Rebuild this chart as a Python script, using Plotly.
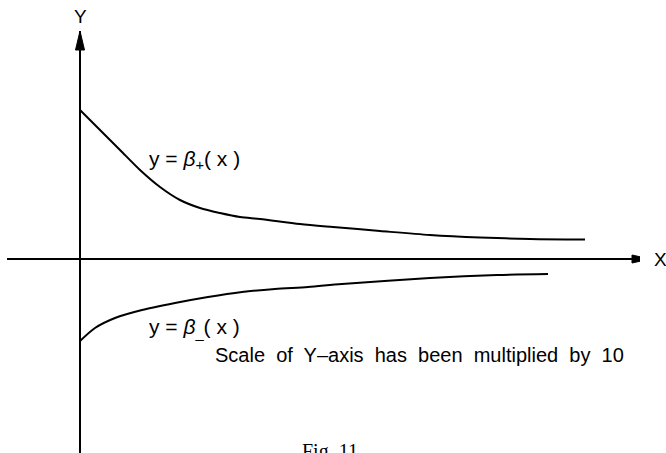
import plotly.graph_objects as go

# upper branch y = beta_+(x)
x_plus = [0, 0.4, 0.8, 1.2, 1.6, 2.0, 2.4, 2.8, 3.2, 3.6, 4.4, 5.06, 6.0, 7.0, 8.0, 9.0, 10.1]
y_plus = [14.9, 12.9, 10.9, 8.9, 7.2, 5.9, 5.1, 4.6, 4.2, 4.0, 3.5, 3.2, 2.8, 2.4, 2.15, 2.0, 1.95]

# lower branch y = beta_-(x)
x_minus = [0, 0.3, 0.7, 1.24, 1.9, 2.56, 3.24, 3.9, 4.56, 5.24, 7.0, 8.34, 9.36]
y_minus = [-8.2, -6.9, -5.9, -5.1, -4.4, -3.8, -3.3, -3.0, -2.8, -2.5, -1.9, -1.6, -1.5]

sans = "Liberation Sans"

fig = go.Figure()
fig.add_trace(go.Scatter(x=x_plus, y=y_plus, mode="lines",
                         line=dict(color="black", width=2, shape="spline", smoothing=0.8)))
fig.add_trace(go.Scatter(x=x_minus, y=y_minus, mode="lines",
                         line=dict(color="black", width=2, shape="spline", smoothing=0.8)))

# arrow heads on the axes
fig.add_shape(type="path", xref="x", yref="y", xsizemode="pixel", ysizemode="pixel",
              xanchor=0, yanchor=22.8, path="M -4.5 -19 L 0 0 L 4.5 -19 Z",
              fillcolor="black", line=dict(color="black", width=1))
fig.add_shape(type="path", xref="x", yref="y", xsizemode="pixel", ysizemode="pixel",
              xanchor=11.2, yanchor=0, path="M -8 -4 L 10 0 L -8 4 Z",
              fillcolor="black", line=dict(color="black", width=1))

fig.add_annotation(x=0, y=1.034, xref="x", yref="paper", xanchor="center", yanchor="middle",
                   text="Y", showarrow=False, font=dict(family=sans, size=19, color="black"))
fig.add_annotation(x=1.033, y=0, xref="paper", yref="y", xanchor="center", yanchor="middle",
                   text="X", showarrow=False, font=dict(family=sans, size=19, color="black"))
fig.add_annotation(x=1.34, y=9.9, xanchor="left", text="y = <i>β</i><sub>+</sub>( x )",
                   showarrow=False, font=dict(family=sans, size=21, color="black"))
fig.add_annotation(x=1.34, y=-6.9, xanchor="left", text="y = <i>β</i><sub>_</sub>( x )",
                   showarrow=False, font=dict(family=sans, size=21, color="black"))
fig.add_annotation(x=2.66, y=-9.6, xanchor="left",
                   text="Scale  of  Y–axis  has  been  multiplied  by  10",
                   showarrow=False, font=dict(family=sans, size=20, color="black"))
fig.add_annotation(x=4.4, y=-17.9, xanchor="left", yanchor="top", text="Fig. 11",
                   showarrow=False, font=dict(family="Liberation Serif", size=20, color="black"))

fig.update_xaxes(range=[-1.46, 11.2], showgrid=False, showticklabels=False, ticks="",
                 zeroline=True, zerolinecolor="black", zerolinewidth=2)
fig.update_yaxes(range=[-19.4, 22.8], showgrid=False, showticklabels=False, ticks="",
                 zeroline=True, zerolinecolor="black", zerolinewidth=1.5)
fig.update_layout(width=666, height=453, margin=dict(l=7, r=26, t=31, b=0),
                  plot_bgcolor="white", paper_bgcolor="white", showlegend=False)

fig.write_html("out.html", config={"displayModeBar": False},
               post_script="document.body.style.margin='0';")
